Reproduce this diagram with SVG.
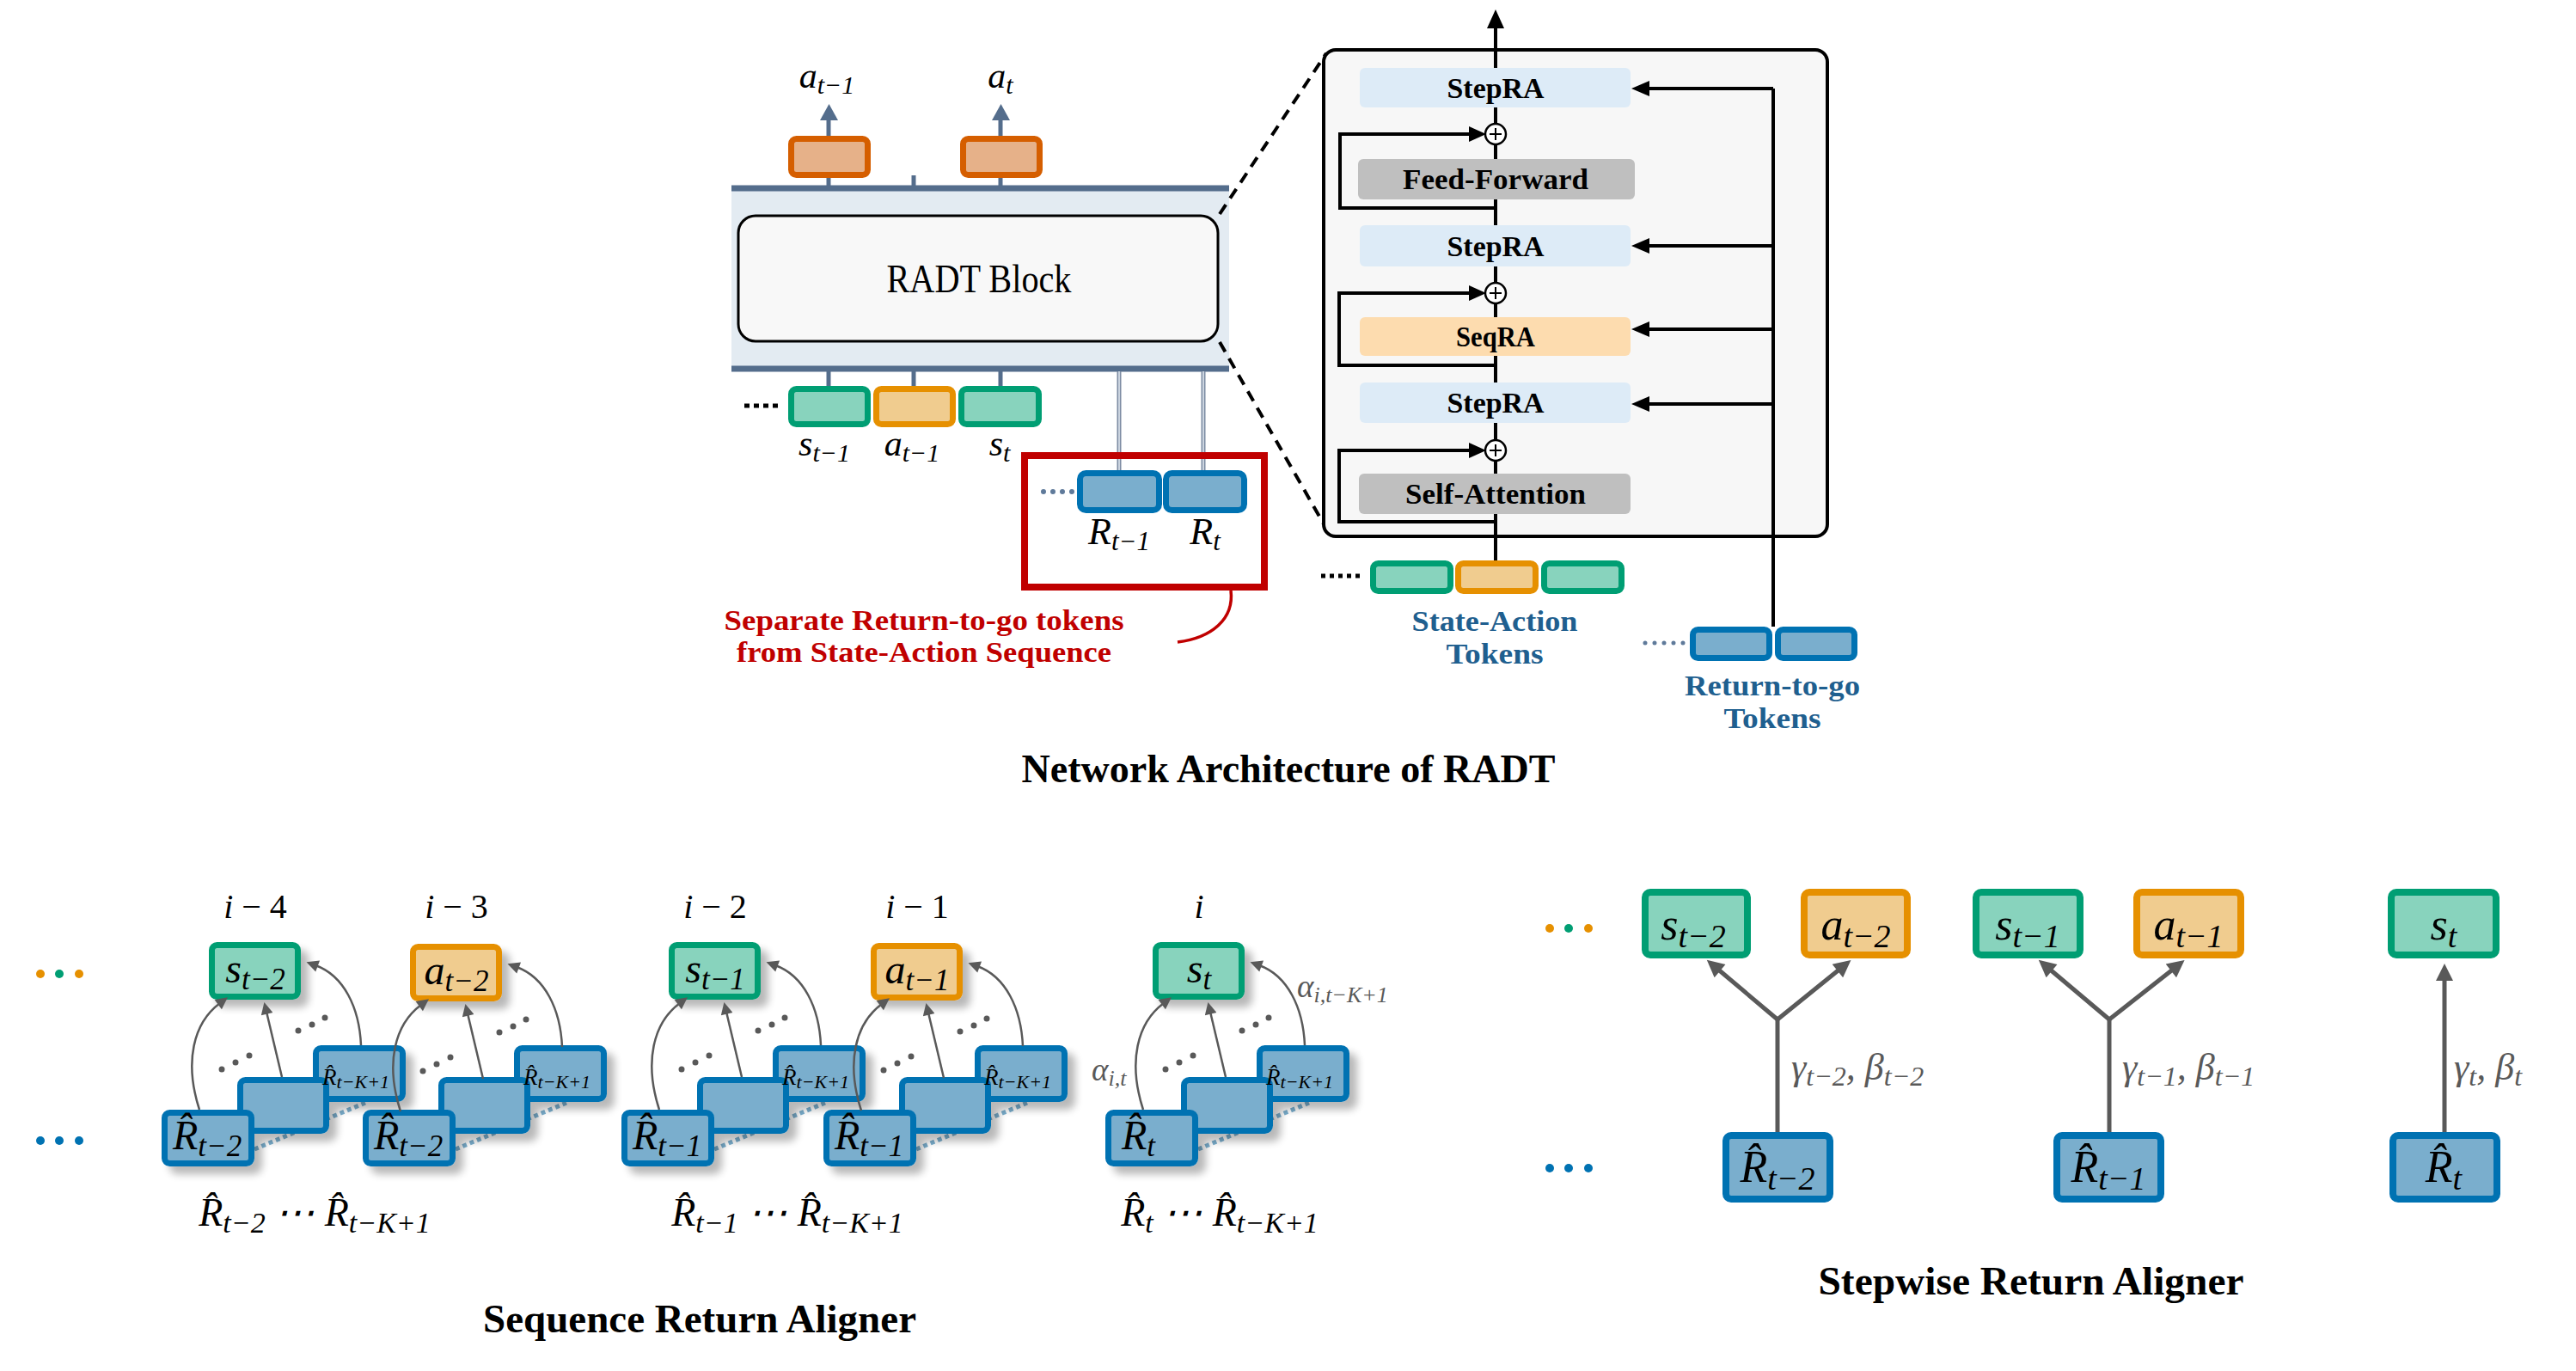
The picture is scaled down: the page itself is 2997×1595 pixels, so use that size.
<svg xmlns="http://www.w3.org/2000/svg" width="2997" height="1595" viewBox="0 0 2997 1595">
<style>
.t{font-family:"Liberation Serif","DejaVu Serif",serif}
.b{font-family:"Liberation Serif","DejaVu Serif",serif;font-weight:bold}
.m{font-family:"Liberation Serif","DejaVu Serif",serif;font-style:italic}
.grn{fill:#88d3bd;stroke:#009e73;stroke-width:7}
.org{fill:#f0cc8f;stroke:#e69000;stroke-width:7}
.blu{fill:#7aaecd;stroke:#0072b2;stroke-width:7}
.out{fill:#e6b189;stroke:#d55e00;stroke-width:7}
.sg{stroke:#546d8c;stroke-width:5;fill:none}
.k{stroke:#000;stroke-width:4;fill:none}
.ga{stroke:#595959;stroke-width:2.5;fill:none}
.gs{stroke:#595959;stroke-width:5;fill:none}
.gd{fill:#595959}
</style>
<defs>
<marker id="mg" viewBox="0 0 10 10" refX="2" refY="5" markerWidth="18" markerHeight="14" markerUnits="userSpaceOnUse" orient="auto"><path d="M0,0 L10,5 L0,10 z" fill="#595959"/></marker>
<marker id="mg2" viewBox="0 0 10 10" refX="2" refY="5" markerWidth="26" markerHeight="20" markerUnits="userSpaceOnUse" orient="auto"><path d="M0,0 L10,5 L0,10 z" fill="#595959"/></marker>
<filter id="sh" x="-20%" y="-20%" width="160%" height="170%"><feGaussianBlur in="SourceAlpha" stdDeviation="5"/><feOffset dx="9" dy="9"/><feComponentTransfer><feFuncA type="linear" slope="0.28"/></feComponentTransfer><feMerge><feMergeNode/><feMergeNode in="SourceGraphic"/></feMerge></filter>
</defs>
<rect width="2997" height="1595" fill="#fff"/>

<!-- ============ Network architecture (left) ============ -->
<g id="radt-band">
<rect x="851" y="219" width="579" height="210" fill="#e3ebf2"/>
<line x1="851" y1="219" x2="1430" y2="219" stroke="#546d8c" stroke-width="7"/>
<line x1="851" y1="429" x2="1430" y2="429" stroke="#546d8c" stroke-width="7"/>
</g>
<g id="radt-block">
<rect x="859" y="251" width="558" height="146" rx="20" fill="#f8f8f8" stroke="#000" stroke-width="3"/>
<text x="1139" y="340" class="t" font-size="46" text-anchor="middle" textLength="215" lengthAdjust="spacingAndGlyphs">RADT Block</text>
</g>

<g id="connectors">
<line x1="964" y1="216" x2="964" y2="138" class="sg"/>
<polygon points="954,140 975,140 964.5,121" fill="#546d8c"/>
<line x1="1164" y1="216" x2="1164" y2="138" class="sg"/>
<polygon points="1154,140 1175,140 1164.5,121" fill="#546d8c"/>
<line x1="1063" y1="204" x2="1063" y2="216" class="sg"/>
<line x1="964" y1="432" x2="964" y2="452" class="sg"/>
<line x1="1063" y1="432" x2="1063" y2="452" class="sg"/>
<line x1="1164" y1="432" x2="1164" y2="452" class="sg"/>
<line x1="1302" y1="432" x2="1302" y2="550" stroke="#7d8ca3" stroke-width="5"/>
<line x1="1302" y1="432" x2="1302" y2="550" stroke="#e6ecf3" stroke-width="1.5"/>
<line x1="1400" y1="432" x2="1400" y2="550" stroke="#7d8ca3" stroke-width="5"/>
<line x1="1400" y1="432" x2="1400" y2="550" stroke="#e6ecf3" stroke-width="1.5"/>
<line x1="1419" y1="249" x2="1543" y2="62" stroke="#000" stroke-width="4" stroke-dasharray="13 9"/>
<line x1="1419" y1="398" x2="1546" y2="620" stroke="#000" stroke-width="4" stroke-dasharray="13 9"/>
<path d="M1432,687 C1436,720 1410,742 1370,747" stroke="#c00000" stroke-width="3.5" fill="none"/>
</g>

<g id="out-a-tm1"><rect x="920.5" y="161.5" width="89" height="42" rx="6" class="out"/>
<text x="962" y="102" class="m" font-size="42" text-anchor="middle">a<tspan font-size="30" dy="7">t−1</tspan></text></g>
<g id="out-a-t"><rect x="1120.5" y="161.5" width="89" height="42" rx="6" class="out"/>
<text x="1164" y="102" class="m" font-size="42" text-anchor="middle">a<tspan font-size="30" dy="7">t</tspan></text></g>

<g id="in-dots"><line x1="866" y1="472" x2="905" y2="472" stroke="#000" stroke-width="5" stroke-dasharray="6 5"/></g>
<g id="in-s-tm1"><rect x="920.5" y="452.5" width="89" height="41" rx="6" class="grn"/>
<text x="959" y="530" class="m" font-size="42" text-anchor="middle">s<tspan font-size="30" dy="7">t−1</tspan></text></g>
<g id="in-a-tm1"><rect x="1019.5" y="452.5" width="89" height="41" rx="6" class="org"/>
<text x="1061" y="530" class="m" font-size="42" text-anchor="middle">a<tspan font-size="30" dy="7">t−1</tspan></text></g>
<g id="in-s-t"><rect x="1118.5" y="452.5" width="90" height="41" rx="6" class="grn"/>
<text x="1163" y="530" class="m" font-size="42" text-anchor="middle">s<tspan font-size="30" dy="7">t</tspan></text></g>

<g id="rtg-separate">
<rect x="1192" y="530" width="279" height="153" fill="none" stroke="#c00000" stroke-width="8"/>
<line x1="1214" y1="572" x2="1248" y2="572" stroke="#5f7a9a" stroke-width="6" stroke-linecap="round" stroke-dasharray="0 11"/>
<rect x="1256.5" y="550.5" width="92" height="43" rx="7" class="blu"/>
<rect x="1356.5" y="550.5" width="91" height="43" rx="7" class="blu"/>
<text x="1302" y="633" class="m" font-size="44" text-anchor="middle">R<tspan font-size="31" dy="7">t−1</tspan></text>
<text x="1402" y="633" class="m" font-size="44" text-anchor="middle">R<tspan font-size="31" dy="7">t</tspan></text>
</g>
<g id="callout-text">
<text x="1075" y="733" class="b" font-size="33" fill="#c00000" text-anchor="middle" textLength="465" lengthAdjust="spacingAndGlyphs">Separate Return-to-go tokens</text>
<text x="1075" y="770" class="b" font-size="33" fill="#c00000" text-anchor="middle" textLength="436" lengthAdjust="spacingAndGlyphs">from State-Action Sequence</text>
</g>

<!-- ============ RADT block detail ============ -->
<g id="detail-frame">
<rect x="1540" y="58" width="586" height="566" rx="14" fill="#f7f7f7" stroke="#000" stroke-width="4"/>
</g>
<g id="detail-connectors">
<line x1="1740" y1="652" x2="1740" y2="30" class="k"/>
<polygon points="1730,33 1750,33 1740,11" fill="#000"/>
<path d="M1740,242 H1559 V156 H1710" class="k"/>
<polygon points="1709,147 1709,165 1729,156" fill="#000"/>
<path d="M1740,425 H1558 V341 H1710" class="k"/>
<polygon points="1709,332 1709,350 1729,341" fill="#000"/>
<path d="M1740,607 H1558 V524 H1710" class="k"/>
<polygon points="1709,515 1709,533 1729,524" fill="#000"/>
<line x1="2063" y1="729" x2="2063" y2="103" class="k"/>
<line x1="2063" y1="103" x2="1916" y2="103" class="k"/>
<polygon points="1919,94 1919,112 1898,103" fill="#000"/>
<line x1="2063" y1="286" x2="1916" y2="286" class="k"/>
<polygon points="1919,277 1919,295 1898,286" fill="#000"/>
<line x1="2063" y1="383" x2="1916" y2="383" class="k"/>
<polygon points="1919,374 1919,392 1898,383" fill="#000"/>
<line x1="2063" y1="470" x2="1916" y2="470" class="k"/>
<polygon points="1919,461 1919,479 1898,470" fill="#000"/>
</g>
<g id="steprA-1"><rect x="1582" y="79" width="315" height="46" rx="6" fill="#ddebf7"/>
<text x="1740" y="114" class="b" font-size="34" text-anchor="middle" textLength="113" lengthAdjust="spacingAndGlyphs">StepRA</text></g>
<g id="add-1"><circle cx="1740" cy="156" r="12" fill="#fff" stroke="#000" stroke-width="2.5"/><path d="M1733,156 H1747 M1740,149 V163" stroke="#000" stroke-width="2"/></g>
<g id="feed-forward"><rect x="1580" y="185" width="322" height="47" rx="6" fill="#bfbfbf"/>
<text x="1740" y="220" class="b" font-size="34" text-anchor="middle" textLength="216" lengthAdjust="spacingAndGlyphs">Feed-Forward</text></g>
<g id="steprA-2"><rect x="1582" y="262" width="315" height="48" rx="6" fill="#ddebf7"/>
<text x="1740" y="298" class="b" font-size="34" text-anchor="middle" textLength="113" lengthAdjust="spacingAndGlyphs">StepRA</text></g>
<g id="add-2"><circle cx="1740" cy="341" r="12" fill="#fff" stroke="#000" stroke-width="2.5"/><path d="M1733,341 H1747 M1740,334 V348" stroke="#000" stroke-width="2"/></g>
<g id="seqra"><rect x="1582" y="369" width="315" height="45" rx="6" fill="#fddcaf"/>
<text x="1740" y="403" class="b" font-size="34" text-anchor="middle" textLength="92" lengthAdjust="spacingAndGlyphs">SeqRA</text></g>
<g id="steprA-3"><rect x="1582" y="445" width="315" height="47" rx="6" fill="#ddebf7"/>
<text x="1740" y="480" class="b" font-size="34" text-anchor="middle" textLength="113" lengthAdjust="spacingAndGlyphs">StepRA</text></g>
<g id="add-3"><circle cx="1740" cy="524" r="12" fill="#fff" stroke="#000" stroke-width="2.5"/><path d="M1733,524 H1747 M1740,517 V531" stroke="#000" stroke-width="2"/></g>
<g id="self-attention"><rect x="1581" y="551" width="316" height="47" rx="6" fill="#bfbfbf"/>
<text x="1740" y="586" class="b" font-size="34" text-anchor="middle" textLength="210" lengthAdjust="spacingAndGlyphs">Self-Attention</text></g>

<g id="sa-tokens">
<line x1="1537" y1="670" x2="1582" y2="670" stroke="#000" stroke-width="5" stroke-dasharray="5 5"/>
<rect x="1597.5" y="655.5" width="90" height="32" rx="6" class="grn"/>
<rect x="1696.5" y="655.5" width="90" height="32" rx="6" class="org"/>
<rect x="1796.5" y="655.5" width="90" height="32" rx="6" class="grn"/>
<text x="1739" y="734" class="b" font-size="34" fill="#1f5f8f" text-anchor="middle" textLength="193" lengthAdjust="spacingAndGlyphs">State-Action</text>
<text x="1739" y="772" class="b" font-size="34" fill="#1f5f8f" text-anchor="middle" textLength="113" lengthAdjust="spacingAndGlyphs">Tokens</text>
</g>
<g id="rtg-tokens">
<line x1="1914" y1="748" x2="1960" y2="748" stroke="#5f7a9a" stroke-width="5" stroke-linecap="round" stroke-dasharray="0 11"/>
<rect x="1969.5" y="732.5" width="89" height="33" rx="6" class="blu"/>
<rect x="2068.5" y="732.5" width="89" height="33" rx="6" class="blu"/>
<text x="2062" y="809" class="b" font-size="34" fill="#1f5f8f" text-anchor="middle" textLength="204" lengthAdjust="spacingAndGlyphs">Return-to-go</text>
<text x="2062" y="847" class="b" font-size="34" fill="#1f5f8f" text-anchor="middle" textLength="113" lengthAdjust="spacingAndGlyphs">Tokens</text>
</g>
<g id="title-arch"><text x="1499" y="910" class="b" font-size="46" text-anchor="middle" textLength="621" lengthAdjust="spacingAndGlyphs">Network Architecture of RADT</text></g>

<!-- ============ Sequence Return Aligner ============ -->
<g id="seq-dots">
<circle cx="47" cy="1133" r="5" fill="#e69000"/><circle cx="69" cy="1133" r="5" fill="#009e73"/><circle cx="92" cy="1133" r="5" fill="#e69000"/>
<circle cx="47" cy="1327" r="5" fill="#0072b2"/><circle cx="69" cy="1327" r="5" fill="#0072b2"/><circle cx="92" cy="1327" r="5" fill="#0072b2"/>
</g>

<g id="seq-g1">
<line x1="296" y1="1337" x2="425" y2="1283" stroke="#7aaecd" stroke-width="5" stroke-dasharray="5 4"/>
<g filter="url(#sh)">
<rect x="367.5" y="1219.5" width="101" height="59" rx="6" class="blu"/>
<rect x="279.5" y="1256.5" width="100" height="59" rx="6" class="blu"/>
<rect x="191.5" y="1294.5" width="101" height="59" rx="6" class="blu"/>
<rect x="246.5" y="1099.5" width="100" height="60" rx="6" class="grn"/>
</g>
<text x="297" y="1068" class="t" font-size="40" text-anchor="middle"><tspan font-style="italic">i</tspan> − 4</text>
<text x="297" y="1143" class="m" font-size="48" text-anchor="middle">s<tspan font-size="35" dy="8">t−2</tspan></text>
<text x="375" y="1262" class="m" font-size="27">R̂<tspan font-size="22" dy="4">t−K+1</tspan></text>
<text x="201" y="1337" class="m" font-size="48">R̂<tspan font-size="35" dy="8">t−2</tspan></text>
<text x="366" y="1426" class="m" font-size="46" text-anchor="middle">R̂<tspan font-size="34" dy="8">t−2</tspan><tspan dy="-8"> ⋯ R̂</tspan><tspan font-size="34" dy="8">t−K+1</tspan></text>
</g>
<g id="seq-g2" transform="translate(234,0)">
<line x1="296" y1="1337" x2="425" y2="1283" stroke="#7aaecd" stroke-width="5" stroke-dasharray="5 4"/>
<g filter="url(#sh)">
<rect x="367.5" y="1219.5" width="101" height="59" rx="6" class="blu"/>
<rect x="279.5" y="1256.5" width="100" height="59" rx="6" class="blu"/>
<rect x="191.5" y="1294.5" width="101" height="59" rx="6" class="blu"/>
<rect x="246.5" y="1101.5" width="100" height="60" rx="6" class="org"/>
</g>
<text x="297" y="1068" class="t" font-size="40" text-anchor="middle"><tspan font-style="italic">i</tspan> − 3</text>
<text x="297" y="1145" class="m" font-size="48" text-anchor="middle">a<tspan font-size="35" dy="8">t−2</tspan></text>
<text x="375" y="1262" class="m" font-size="27">R̂<tspan font-size="22" dy="4">t−K+1</tspan></text>
<text x="201" y="1337" class="m" font-size="48">R̂<tspan font-size="35" dy="8">t−2</tspan></text>
</g>
<g id="seq-g3" transform="translate(535,0)">
<line x1="296" y1="1337" x2="425" y2="1283" stroke="#7aaecd" stroke-width="5" stroke-dasharray="5 4"/>
<g filter="url(#sh)">
<rect x="367.5" y="1219.5" width="101" height="59" rx="6" class="blu"/>
<rect x="279.5" y="1256.5" width="100" height="59" rx="6" class="blu"/>
<rect x="191.5" y="1294.5" width="101" height="59" rx="6" class="blu"/>
<rect x="246.5" y="1099.5" width="100" height="60" rx="6" class="grn"/>
</g>
<text x="297" y="1068" class="t" font-size="40" text-anchor="middle"><tspan font-style="italic">i</tspan> − 2</text>
<text x="297" y="1143" class="m" font-size="48" text-anchor="middle">s<tspan font-size="35" dy="8">t−1</tspan></text>
<text x="375" y="1262" class="m" font-size="27">R̂<tspan font-size="22" dy="4">t−K+1</tspan></text>
<text x="201" y="1337" class="m" font-size="48">R̂<tspan font-size="35" dy="8">t−1</tspan></text>
<text x="381" y="1426" class="m" font-size="46" text-anchor="middle">R̂<tspan font-size="34" dy="8">t−1</tspan><tspan dy="-8"> ⋯ R̂</tspan><tspan font-size="34" dy="8">t−K+1</tspan></text>
</g>
<g id="seq-g4" transform="translate(770,0)">
<line x1="296" y1="1337" x2="425" y2="1283" stroke="#7aaecd" stroke-width="5" stroke-dasharray="5 4"/>
<g filter="url(#sh)">
<rect x="367.5" y="1219.5" width="101" height="59" rx="6" class="blu"/>
<rect x="279.5" y="1256.5" width="100" height="59" rx="6" class="blu"/>
<rect x="191.5" y="1294.5" width="101" height="59" rx="6" class="blu"/>
<rect x="246.5" y="1100.5" width="100" height="60" rx="6" class="org"/>
</g>
<text x="297" y="1068" class="t" font-size="40" text-anchor="middle"><tspan font-style="italic">i</tspan> − 1</text>
<text x="297" y="1144" class="m" font-size="48" text-anchor="middle">a<tspan font-size="35" dy="8">t−1</tspan></text>
<text x="375" y="1262" class="m" font-size="27">R̂<tspan font-size="22" dy="4">t−K+1</tspan></text>
<text x="201" y="1337" class="m" font-size="48">R̂<tspan font-size="35" dy="8">t−1</tspan></text>
</g>
<g id="seq-g5" transform="translate(1098,0)">
<line x1="296" y1="1337" x2="425" y2="1283" stroke="#7aaecd" stroke-width="5" stroke-dasharray="5 4"/>
<g filter="url(#sh)">
<rect x="367.5" y="1219.5" width="101" height="59" rx="6" class="blu"/>
<rect x="279.5" y="1256.5" width="100" height="59" rx="6" class="blu"/>
<rect x="191.5" y="1294.5" width="101" height="59" rx="6" class="blu"/>
<rect x="246.5" y="1099.5" width="100" height="60" rx="6" class="grn"/>
</g>
<text x="297" y="1068" class="m" font-size="40" text-anchor="middle">i</text>
<text x="297" y="1143" class="m" font-size="48" text-anchor="middle">s<tspan font-size="35" dy="8">t</tspan></text>
<text x="375" y="1262" class="m" font-size="27">R̂<tspan font-size="22" dy="4">t−K+1</tspan></text>
<text x="207" y="1337" class="m" font-size="48">R̂<tspan font-size="35" dy="8">t</tspan></text>
<text x="321" y="1426" class="m" font-size="46" text-anchor="middle">R̂<tspan font-size="34" dy="8">t</tspan><tspan dy="-8"> ⋯ R̂</tspan><tspan font-size="34" dy="8">t−K+1</tspan></text>
<text x="172" y="1257" class="m" font-size="37" fill="#595959">α<tspan font-size="26" dy="6">i,t</tspan></text>
<text x="411" y="1160" class="m" font-size="37" fill="#595959">α<tspan font-size="26" dy="6">i,t−K+1</tspan></text>
</g>

<g id="seq-connectors">
<g id="seq-arrows-template">
<path d="M232,1291 C214,1235 225,1190 256,1167" class="ga" marker-end="url(#mg)"/>
<path d="M328,1253 L310,1177" class="ga" marker-end="url(#mg)"/>
<path d="M420,1216 C418,1172 400,1135 367,1123" class="ga" marker-end="url(#mg)"/>
<circle cx="258" cy="1244" r="3.5" class="gd"/><circle cx="274" cy="1236" r="3.5" class="gd"/><circle cx="290" cy="1228" r="3.5" class="gd"/>
<circle cx="347" cy="1199" r="3.5" class="gd"/><circle cx="363" cy="1192" r="3.5" class="gd"/><circle cx="378" cy="1184" r="3.5" class="gd"/>
</g>
<use href="#seq-arrows-template" transform="translate(234,2)"/>
<use href="#seq-arrows-template" transform="translate(535,0)"/>
<use href="#seq-arrows-template" transform="translate(770,1)"/>
<use href="#seq-arrows-template" transform="translate(1098,0)"/>
</g>
<g id="title-seq"><text x="814" y="1550" class="b" font-size="46" text-anchor="middle" textLength="504" lengthAdjust="spacingAndGlyphs">Sequence Return Aligner</text></g>

<!-- ============ Stepwise Return Aligner ============ -->
<g id="step-dots">
<circle cx="1803" cy="1080" r="5" fill="#e69000"/><circle cx="1825" cy="1080" r="5" fill="#009e73"/><circle cx="1848" cy="1080" r="5" fill="#e69000"/>
<circle cx="1803" cy="1359" r="5" fill="#0072b2"/><circle cx="1825" cy="1359" r="5" fill="#0072b2"/><circle cx="1848" cy="1359" r="5" fill="#0072b2"/>
</g>
<g id="step-connectors">
<path d="M2068,1317 V1186" class="gs"/>
<path d="M2068,1186 L1998,1127" class="gs" marker-end="url(#mg2)"/>
<path d="M2068,1186 L2141,1127" class="gs" marker-end="url(#mg2)"/>
<path d="M2454,1317 V1186" class="gs"/>
<path d="M2454,1186 L2384,1127" class="gs" marker-end="url(#mg2)"/>
<path d="M2454,1186 L2529,1127" class="gs" marker-end="url(#mg2)"/>
<path d="M2844,1317 V1137" class="gs" marker-end="url(#mg2)"/>
<text x="2084" y="1256" class="m" font-size="44" fill="#595959">γ<tspan font-size="32" dy="7">t−2</tspan><tspan dy="-7">, β</tspan><tspan font-size="32" dy="7">t−2</tspan></text>
<text x="2469" y="1256" class="m" font-size="44" fill="#595959">γ<tspan font-size="32" dy="7">t−1</tspan><tspan dy="-7">, β</tspan><tspan font-size="32" dy="7">t−1</tspan></text>
<text x="2855" y="1256" class="m" font-size="44" fill="#595959">γ<tspan font-size="32" dy="7">t</tspan><tspan dy="-7">, β</tspan><tspan font-size="32" dy="7">t</tspan></text>
</g>
<g id="step-s-tm2"><rect x="1914" y="1038" width="119" height="73" rx="6" class="grn" style="stroke-width:8"/>
<text x="1970" y="1093" class="m" font-size="52" text-anchor="middle">s<tspan font-size="38" dy="9">t−2</tspan></text></g>
<g id="step-a-tm2"><rect x="2099" y="1038" width="120" height="73" rx="6" class="org" style="stroke-width:8"/>
<text x="2159" y="1093" class="m" font-size="52" text-anchor="middle">a<tspan font-size="38" dy="9">t−2</tspan></text></g>
<g id="step-s-tm1"><rect x="2299" y="1038" width="121" height="73" rx="6" class="grn" style="stroke-width:8"/>
<text x="2359" y="1093" class="m" font-size="52" text-anchor="middle">s<tspan font-size="38" dy="9">t−1</tspan></text></g>
<g id="step-a-tm1"><rect x="2486" y="1038" width="121" height="73" rx="6" class="org" style="stroke-width:8"/>
<text x="2546" y="1093" class="m" font-size="52" text-anchor="middle">a<tspan font-size="38" dy="9">t−1</tspan></text></g>
<g id="step-s-t"><rect x="2782" y="1038" width="122" height="73" rx="6" class="grn" style="stroke-width:8"/>
<text x="2843" y="1093" class="m" font-size="52" text-anchor="middle">s<tspan font-size="38" dy="9">t</tspan></text></g>
<g id="step-R-tm2"><rect x="2008" y="1321" width="121" height="74" rx="6" class="blu" style="stroke-width:8"/>
<text x="2068" y="1375" class="m" font-size="52" text-anchor="middle">R̂<tspan font-size="38" dy="9">t−2</tspan></text></g>
<g id="step-R-tm1"><rect x="2393" y="1321" width="121" height="74" rx="6" class="blu" style="stroke-width:8"/>
<text x="2453" y="1375" class="m" font-size="52" text-anchor="middle">R̂<tspan font-size="38" dy="9">t−1</tspan></text></g>
<g id="step-R-t"><rect x="2784" y="1321" width="121" height="74" rx="6" class="blu" style="stroke-width:8"/>
<text x="2843" y="1375" class="m" font-size="52" text-anchor="middle">R̂<tspan font-size="38" dy="9">t</tspan></text></g>
<g id="title-step"><text x="2363" y="1506" class="b" font-size="46" text-anchor="middle" textLength="495" lengthAdjust="spacingAndGlyphs">Stepwise Return Aligner</text></g>
</svg>
